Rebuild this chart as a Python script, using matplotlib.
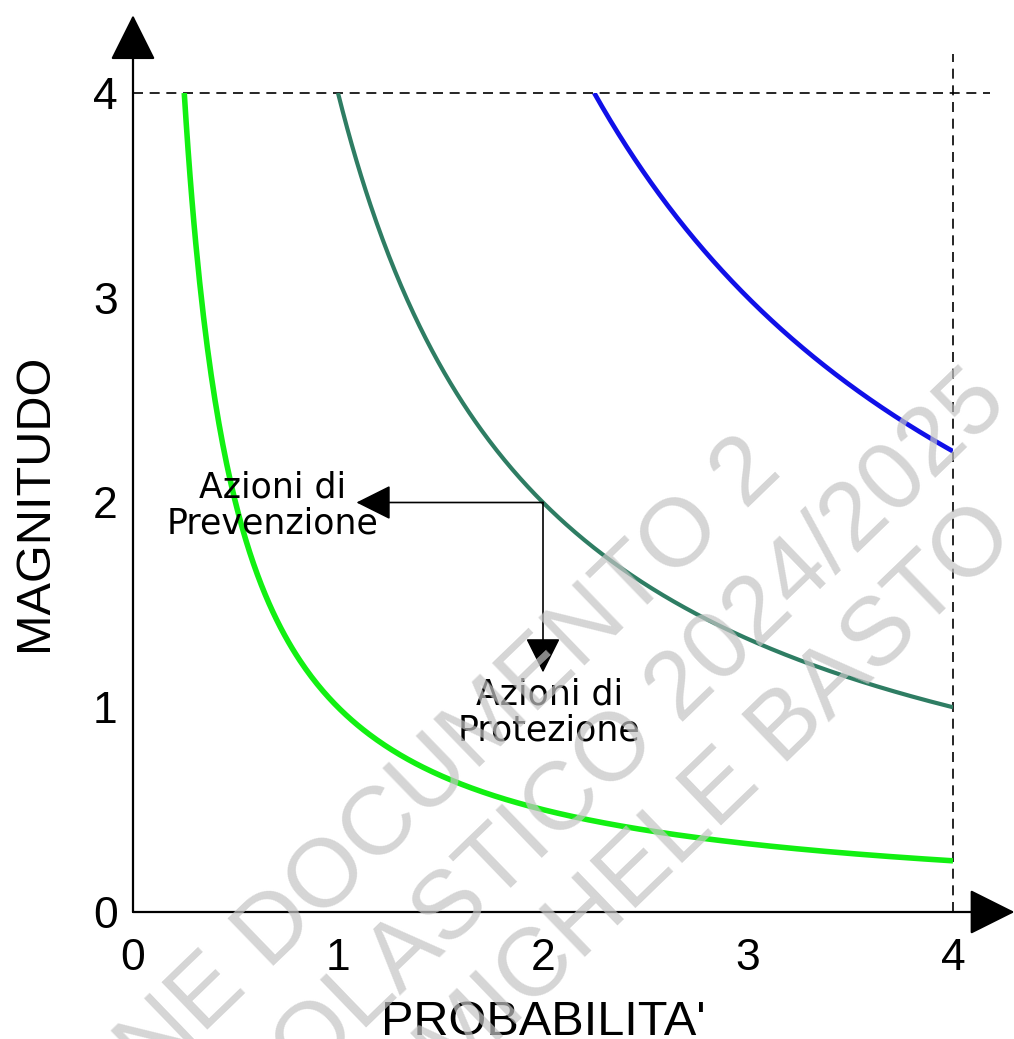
import numpy as np
import matplotlib
matplotlib.use("Agg")
import matplotlib.pyplot as plt

# ---- data ----
risk_levels = [1, 4, 9]                     # R = P * M
curve_colors = ["#12f012", "#2e7d63", "#1010e8"]
curve_widths = [4.0, 3.0, 3.4]
x_ticks = [0, 1, 2, 3, 4]
y_ticks = [0, 1, 2, 3, 4]
x_label = "PROBABILITA'"
y_label = "MAGNITUDO"
ref_point = (2, 2)
prev_tip_x = 1.09
prot_tip_y = 1.17
prev_text = "Azioni di\nPrevenzione"
prot_text = "Azioni di\nProtezione"
watermark_lines = ["ONE DOCUMENTO 2", "SCOLASTICO 2024/2025", "MICHELE BASTO"]

W, H = 1014, 1039
fig = plt.figure(figsize=(W / 100, H / 100), dpi=100)
ox, oy = 133, 912
ax = fig.add_axes([ox / W, (H - oy) / H, 820 / W, 819 / H])
ax.set_xlim(0, 4)
ax.set_ylim(0, 4)
for s in ax.spines.values():
    s.set_visible(False)

# curves M = R / P
for R, c, lw in zip(risk_levels, curve_colors, curve_widths):
    p = np.linspace(R / 4, 4, 400)
    ax.plot(p, R / p, color=c, lw=lw, solid_capstyle="butt", zorder=3)

# dashed limits
ax.plot([0, 4.18], [4, 4], ls=(0, (6, 4)), color="black", lw=1.2, clip_on=False)
ax.plot([4, 4], [0, 4.19], ls=(0, (6, 4)), color="black", lw=1.2, clip_on=False)

# axes with arrows
arr = dict(arrowstyle="-|>,head_length=1.0,head_width=0.5", color="black",
           lw=1.6, mutation_scale=29, shrinkA=0, shrinkB=0)
ax.annotate("", xy=(0, 4.38), xytext=(0, 0), arrowprops=arr, annotation_clip=False)
ax.annotate("", xy=(4.3, 0), xytext=(0, 0), arrowprops=arr, annotation_clip=False)

# action arrows
arr2 = dict(arrowstyle="-|>,head_length=1.0,head_width=0.5", color="black",
            lw=1.2, mutation_scale=22, shrinkA=0, shrinkB=0)
ax.annotate("", xy=(prev_tip_x, ref_point[1]), xytext=ref_point, arrowprops=arr2,
            annotation_clip=False)
ax.annotate("", xy=(ref_point[0], prot_tip_y), xytext=ref_point, arrowprops=arr2,
            annotation_clip=False)
ax.text(0.68, 1.985, prev_text, ha="center", va="center", fontsize=25,
        family="DejaVu Sans", linespacing=1.1, zorder=5)
ax.text(2.03, 0.975, prot_text, ha="center", va="center", fontsize=25,
        family="DejaVu Sans", linespacing=1.1, zorder=5)

# ticks
ax.set_xticks(x_ticks)
ax.set_yticks(y_ticks)
ax.tick_params(length=0, labelsize=32)
ax.tick_params(axis="x", pad=19)
ax.tick_params(axis="y", pad=11)
for lab in ax.get_xticklabels() + ax.get_yticklabels():
    lab.set_family("Liberation Sans")

ax.set_xlabel(x_label, fontsize=35, family="Liberation Sans", labelpad=15)
ax.set_ylabel(y_label, fontsize=35, family="Liberation Sans", labelpad=26)

# watermark
wm_pos = [(784, 473), (1010, 406), (1018, 539)]
for txt, (px, py) in zip(watermark_lines, wm_pos):
    fig.text(px / W, 1 - py / H, txt, ha="right", va="baseline", rotation=44,
             rotation_mode="anchor", fontsize=70, family="Liberation Sans",
             color="#c4c4c4", alpha=0.7, zorder=10)

fig.savefig("out.png", dpi=100)
